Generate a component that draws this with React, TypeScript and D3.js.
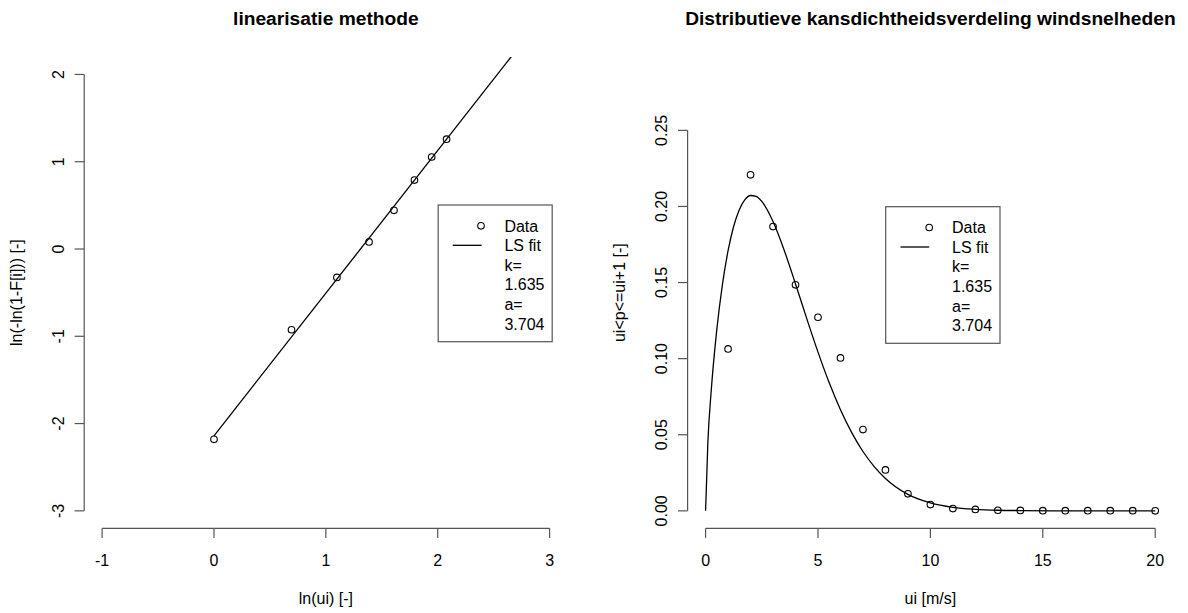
import React from "react";
import * as d3 from "d3";

// ---- Data (left panel: linearisation) ----
const lnU = [0, 0.693, 1.099, 1.386, 1.609, 1.792, 1.946, 2.079];
const lnLn = [-2.18, -0.925, -0.326, 0.081, 0.443, 0.79, 1.054, 1.259];
const fitK = 1.635;
const fitA = 3.704;
const fitSlope = 1.635;
const fitIntercept = -2.141;
const fitLineX = [0, 3];

// ---- Data (right panel: distribution) ----
const ui = [1, 2, 3, 4, 5, 6, 7, 8, 9, 10, 11, 12, 13, 14, 15, 16, 17, 18, 19, 20];
const pObs = [0.1064, 0.2208, 0.1868, 0.1485, 0.1272, 0.1005, 0.0534, 0.0269, 0.0112, 0.0041,
  0.0015, 0.0009, 0.0004, 0.0003, 0.0001, 0.0001, 0.0001, 0.0001, 0.0001, 0.0];
const curveU = [0, 0.1, 0.25, 0.5, 0.75, 1, 1.25, 1.5, 1.75, 2, 2.25, 2.5, 3, 3.5, 4, 4.5, 5, 5.5, 6,
  6.5, 7, 7.5, 8, 9, 10, 11, 12, 13, 14, 16, 20];
const curveF = [0, 0.0444, 0.0787, 0.1192, 0.1488, 0.1709, 0.187, 0.1979, 0.2045, 0.2072, 0.2066,
  0.2033, 0.1901, 0.1711, 0.1491, 0.1263, 0.1043, 0.0841, 0.0664, 0.0514, 0.039, 0.0291, 0.0213,
  0.0108, 0.0052, 0.0023, 0.001, 0.0004, 0.0002, 0.00002, 0];

// ---- Ticks & labels ----
const leftXTicks = [-1, 0, 1, 2, 3];
const leftYTicks = [-3, -2, -1, 0, 1, 2];
const rightXTicks = [0, 5, 10, 15, 20];
const rightYTicks = [0, 0.05, 0.1, 0.15, 0.2, 0.25];
const legendLabels = ["Data", "LS fit", "k=", String(fitK), "a=", String(fitA)];

const FONT = "'Liberation Sans', Arial, Helvetica, sans-serif";
const AXIS = "#555";

export default function App() {
  const W = 1188, H = 613;
  const top = 57, bottom = 528.3;

  const xL = d3.scaleLinear().domain([-1.16, 3.16]).range([84.2, 567.5]);
  const yL = d3.scaleLinear().domain([-3.2, 2.2]).range([bottom, top]);
  const xR = d3.scaleLinear().domain([-0.8, 20.8]).range([687.6, 1173.2]);
  const yR = d3.scaleLinear().domain([-0.01147, 0.2982]).range([bottom, top]);

  const fitLine = d3.line<number>().x((d) => xL(d)).y((d) => yL(fitSlope * d + fitIntercept));
  const weibull = d3
    .line<number>()
    .x((_, i) => xR(curveU[i]))
    .y((d) => yR(d))
    .curve(d3.curveMonotoneX);

  const tickLen = 9.6;
  const fs = 16;

  const panel = (
    xs: d3.ScaleLinear<number, number>,
    ys: d3.ScaleLinear<number, number>,
    xTicks: number[],
    yTicks: number[],
    yFmt: (v: number) => string,
    title: string,
    xLab: string,
    yLab: string
  ) => {
    const x0 = xs.range()[0];
    const x1 = xs.range()[1];
    const cx = (x0 + x1) / 2;
    const cy = (top + bottom) / 2;
    return (
      <g>
        <text x={cx} y={25} textAnchor="middle" fontFamily={FONT} fontWeight="bold" fontSize={19.2}>
          {title}
        </text>
        {/* x axis */}
        <line x1={xs(xTicks[0])} x2={xs(xTicks[xTicks.length - 1])} y1={bottom} y2={bottom} stroke={AXIS} strokeWidth={1.2} />
        {xTicks.map((t) => (
          <g key={"xt" + t}>
            <line x1={xs(t)} x2={xs(t)} y1={bottom} y2={bottom + tickLen} stroke={AXIS} strokeWidth={1.2} />
            <text x={xs(t)} y={566} textAnchor="middle" fontFamily={FONT} fontSize={fs}>
              {t}
            </text>
          </g>
        ))}
        <text x={cx} y={603.5} textAnchor="middle" fontFamily={FONT} fontSize={fs}>
          {xLab}
        </text>
        {/* y axis */}
        <line x1={x0} x2={x0} y1={ys(yTicks[0])} y2={ys(yTicks[yTicks.length - 1])} stroke={AXIS} strokeWidth={1.2} />
        {yTicks.map((t) => (
          <g key={"yt" + t}>
            <line x1={x0} x2={x0 - tickLen} y1={ys(t)} y2={ys(t)} stroke={AXIS} strokeWidth={1.2} />
            <text
              transform={`translate(${x0 - 20.5},${ys(t)}) rotate(-90)`}
              textAnchor="middle"
              fontFamily={FONT}
              fontSize={fs}
            >
              {yFmt(t)}
            </text>
          </g>
        ))}
        <text
          transform={`translate(${x0 - 62.5},${cy}) rotate(-90)`}
          textAnchor="middle"
          fontFamily={FONT}
          fontSize={fs}
        >
          {yLab}
        </text>
      </g>
    );
  };

  const legend = (bx: number, by: number, bw: number, bh: number, cxp: number, lx0: number, lx1: number, tx: number) => (
    <g>
      <rect x={bx} y={by} width={bw} height={bh} fill="white" stroke={AXIS} strokeWidth={1.2} />
      {legendLabels.map((lab, i) => (
        <text key={lab + i} x={tx} y={by + 26.5 + i * 19.6} fontFamily={FONT} fontSize={fs}>
          {lab}
        </text>
      ))}
      <circle cx={cxp} cy={by + 20.8} r={3.3} fill="none" stroke="black" strokeWidth={1.1} />
      <line x1={lx0} x2={lx1} y1={by + 40.3} y2={by + 40.3} stroke="black" strokeWidth={1.3} />
    </g>
  );

  return (
    <svg
      width={W}
      height={H}
      style={{ position: "absolute", left: 0, top: 0, background: "white" }}
      xmlns="http://www.w3.org/2000/svg"
    >
      <defs>
        <clipPath id="clipL">
          <rect x={84.2} y={top} width={567.5 - 84.2} height={bottom - top} />
        </clipPath>
        <clipPath id="clipR">
          <rect x={687.6} y={top} width={1173.2 - 687.6} height={bottom - top} />
        </clipPath>
      </defs>
      <rect x={0} y={0} width={W} height={H} fill="white" />

      {/* Left panel */}
      {panel(xL, yL, leftXTicks, leftYTicks, (v) => String(v), "linearisatie methode", "ln(ui) [-]", "ln(-ln(1-F[i])) [-]")}
      <path d={fitLine(fitLineX) || ""} fill="none" stroke="black" strokeWidth={1.3} clipPath="url(#clipL)" />
      {lnU.map((x, i) => (
        <circle key={"pl" + i} cx={xL(x)} cy={yL(lnLn[i])} r={3.3} fill="none" stroke="black" strokeWidth={1.1} />
      ))}
      {legend(438.2, 205, 114, 136.7, 481, 452.7, 481.7, 504.4)}

      {/* Right panel */}
      {panel(xR, yR, rightXTicks, rightYTicks, (v) => d3.format(".2f")(v), "Distributieve kansdichtheidsverdeling windsnelheden", "ui [m/s]", "ui<p<=ui+1 [-]")}
      <path d={weibull(curveF) || ""} fill="none" stroke="black" strokeWidth={1.3} clipPath="url(#clipR)" />
      {ui.map((x, i) => (
        <circle key={"pr" + i} cx={xR(x)} cy={yR(pObs[i])} r={3.3} fill="none" stroke="black" strokeWidth={1.1} />
      ))}
      {legend(885.7, 206.7, 114.3, 136.6, 929.2, 900.5, 929.2, 952)}
    </svg>
  );
}
